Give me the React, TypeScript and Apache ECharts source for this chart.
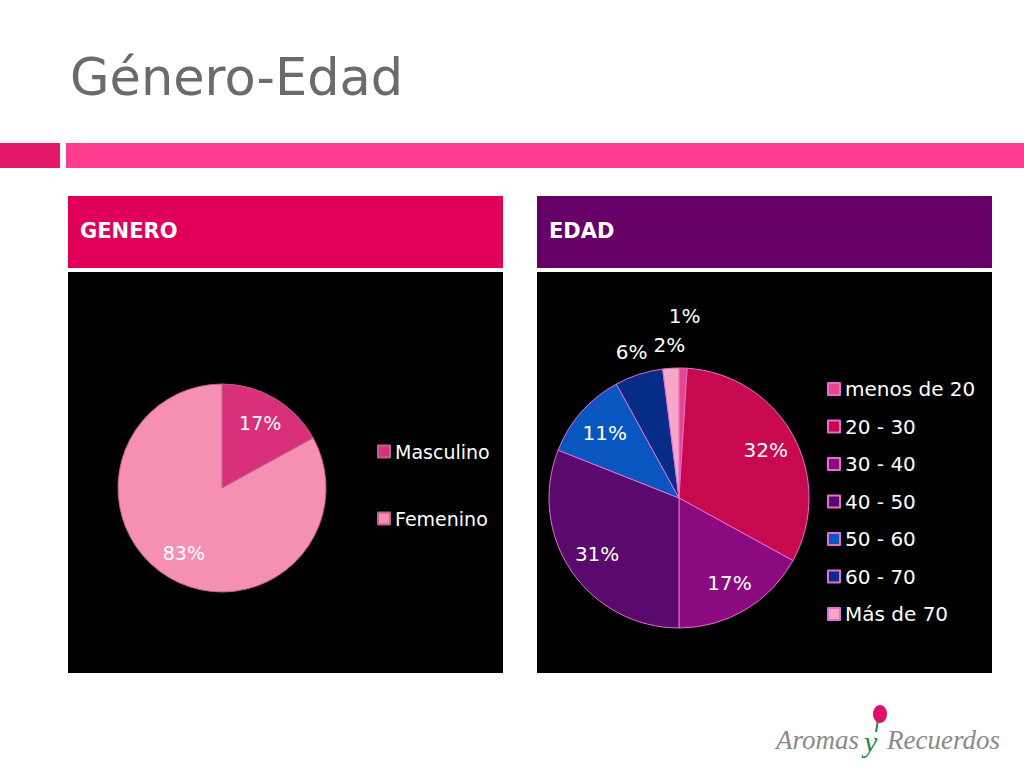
import React, { useEffect, useRef } from "react";
import * as echarts from "echarts";

const generoCats = ["Masculino", "Femenino"];
const generoVals = [17, 83];
const generoColors = ["#d9307c", "#f590b2"];

const edadCats = ["menos de 20", "20 - 30", "30 - 40", "40 - 50", "50 - 60", "60 - 70", "Más de 70"];
const edadVals = [1, 32, 17, 31, 11, 6, 2];
const edadColors = ["#e8468a", "#c8084f", "#8c0a80", "#5a0a6c", "#0a56c0", "#062c88", "#f7a8c8"];

const FONT = "'DejaVu Sans', sans-serif";

export default function App() {
  const ref = useRef<HTMLDivElement>(null);
  useEffect(() => {
    document.body.style.margin = "0";
    const chart = echarts.init(ref.current!, null, { renderer: "svg" });
    const lbl = { show: true, position: "inside", formatter: "{d}%", color: "#fff", fontSize: 20, fontFamily: FONT };
    const edadLabelPie = (radius: number[], show: (v: number, i: number) => boolean) => ({
      type: "pie", center: [679, 498], radius, startAngle: 90, clockwise: true, silent: true,
      z: 5, legendHoverLink: false,
      data: edadCats.map((n, i) => ({
        name: n, value: edadVals[i],
        label: { show: show(edadVals[i], i) },
      })),
      itemStyle: { color: "rgba(0,0,0,0)", borderWidth: 0 },
      label: lbl, labelLine: { show: false },
      emphasis: { disabled: true },
    });
    chart.setOption({
      animation: false,
      backgroundColor: "#ffffff",
      graphic: [
        { type: "text", left: 70, top: 52, style: { text: "Género-Edad", fontSize: 51, fill: "#6b6b6b", fontFamily: FONT } },
        { type: "rect", shape: { x: 0, y: 143, width: 60, height: 25 }, style: { fill: "#e3186a" } },
        { type: "rect", shape: { x: 66, y: 143, width: 958, height: 25 }, style: { fill: "#ff3d8e" } },
        { type: "rect", shape: { x: 68, y: 196, width: 435, height: 72 }, style: { fill: "#e0005a" } },
        { type: "rect", shape: { x: 537, y: 196, width: 455, height: 72 }, style: { fill: "#660066" } },
        { type: "text", x: 80, y: 220, style: { text: "GENERO", fontSize: 21, fontWeight: "bold", fill: "#fff", fontFamily: FONT } },
        { type: "text", x: 549, y: 220, style: { text: "EDAD", fontSize: 21, fontWeight: "bold", fill: "#fff", fontFamily: FONT } },
        { type: "rect", z: -1, shape: { x: 68, y: 272, width: 435, height: 401 }, style: { fill: "#000" } },
        { type: "rect", z: -1, shape: { x: 537, y: 272, width: 455, height: 401 }, style: { fill: "#000" } },
        { type: "line", shape: { x1: 878, y1: 720, x2: 876, y2: 732 }, style: { stroke: "#1a8a50", lineWidth: 2 } },
        { type: "ellipse", shape: { cx: 880, cy: 714, rx: 7, ry: 9 }, style: { fill: "#e0106a" } },
        { type: "text", x: 776, y: 726, style: { text: "Aromas", fontSize: 27, fontStyle: "italic", fill: "#8a8a8a", fontFamily: "'Liberation Serif', serif" } },
        { type: "text", x: 864, y: 726, style: { text: "y", fontSize: 30, fontStyle: "italic", fill: "#1a8a50", fontFamily: "'Liberation Serif', serif" } },
        { type: "text", x: 887, y: 726, style: { text: "Recuerdos", fontSize: 27, fontStyle: "italic", fill: "#8a8a8a", fontFamily: "'Liberation Serif', serif" } },
      ],
      legend: [
        {
          data: generoCats, orient: "vertical", left: 372, top: 437, itemGap: 48,
          itemWidth: 12, itemHeight: 12, icon: "rect",
          textStyle: { color: "#fff", fontSize: 19, fontFamily: FONT },
        },
        {
          data: edadCats, orient: "vertical", left: 822, top: 374, itemGap: 17.5,
          itemWidth: 12, itemHeight: 12, icon: "rect",
          textStyle: { color: "#fff", fontSize: 20, fontFamily: FONT },
        },
      ],
      series: [
        {
          type: "pie", center: [222, 488], radius: 104, startAngle: 90, clockwise: true,
          color: generoColors,
          data: generoCats.map((n, i) => ({ name: n, value: generoVals[i] })),
          label: { show: false },
          labelLine: { show: false },
          itemStyle: { borderColor: "#c06090", borderWidth: 1 },
        },
        {
          type: "pie", center: [222, 488], radius: [40, 104], startAngle: 90, clockwise: true, silent: true,
          z: 5, legendHoverLink: false,
          data: generoCats.map((n, i) => ({ name: n, value: generoVals[i] })),
          itemStyle: { color: "rgba(0,0,0,0)", borderWidth: 0 },
          label: { ...lbl, fontSize: 19 }, labelLine: { show: false },
          emphasis: { disabled: true },
        },
        {
          type: "pie", center: [679, 498], radius: 130, startAngle: 90, clockwise: true,
          color: edadColors,
          data: edadCats.map((n, i) => ({ name: n, value: edadVals[i] })),
          label: { show: false },
          labelLine: { show: false },
          itemStyle: { borderColor: "#e070d0", borderWidth: 1 },
        },
        edadLabelPie([62, 130], (v) => v >= 10),
        edadLabelPie([120, 180], (v, i) => v < 10 && i !== 0),
        edadLabelPie([150, 208], (v, i) => i === 0),
      ],
    });
    return () => chart.dispose();
  }, []);
  return <div ref={ref} style={{ width: 1024, height: 768, position: "absolute", left: 0, top: 0 }} />;
}
